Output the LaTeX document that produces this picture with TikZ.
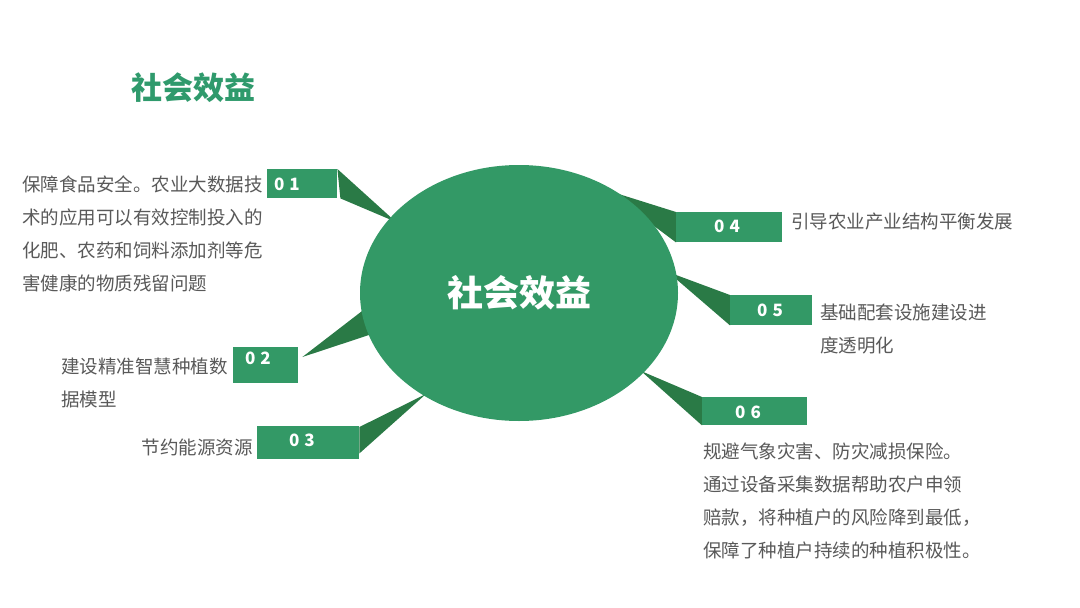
\documentclass[tikz,border=0pt]{standalone}
\usepackage{fontspec}
\setmainfont{Noto Sans CJK SC}
\definecolor{mygreen}{HTML}{339966}
\definecolor{mydark}{HTML}{2A7A46}
\definecolor{mytitle}{HTML}{2F9A6C}
\definecolor{mygray}{HTML}{595959}
\begin{document}
\begin{tikzpicture}[x=1pt,y=-1pt,
  tab/.style={fill=mygreen,draw=none,inner sep=0pt,anchor=north west},
  num/.style={text=white,font=\fontsize{17}{17}\selectfont\bfseries,inner sep=0pt},
  body/.style={text=mygray,font=\fontsize{18.5}{33}\selectfont,align=left,inner sep=0pt,anchor=north west}]
\useasboundingbox (0,0) rectangle (1080,608);
\fill[white] (0,0) rectangle (1080,608);
% title
\node[text=mytitle,font=\fontsize{31}{31}\selectfont\bfseries,inner sep=0pt,anchor=west] (title) at (131,88) {社会效益};
% tabs (rectangles)
\node[tab,minimum width=70,minimum height=29] (r1) at (267,169) {};
\node[tab,minimum width=65,minimum height=36] (r2) at (233,347) {};
\node[tab,minimum width=102,minimum height=33] (r3) at (257,426) {};
\node[tab,minimum width=106,minimum height=30] (r4) at (676,212) {};
\node[tab,minimum width=82,minimum height=30] (r5) at (730,295) {};
\node[tab,minimum width=105,minimum height=28] (r6) at (702,397) {};
% connector triangles (tips slightly inside the ellipse)
\coordinate (p1) at (396,222);
\coordinate (p2a) at (366,308);
\coordinate (p2b) at (372,334);
\coordinate (p3) at (426,394);
\coordinate (p4) at (606,190);
\coordinate (p5) at (668,272);
\coordinate (p6) at (641,371);
\fill[mydark] (r1.north east) -- ([xshift=3pt]r1.south east) -- (p1) -- cycle;
\fill[mydark] ([xshift=4pt,yshift=-10pt]r2.north east) -- (p2a) -- (p2b) -- cycle;
\fill[mydark] ([yshift=-1pt]r3.north east) -- ([yshift=6pt]r3.south east) -- (p3) -- cycle;
\fill[mydark] (r4.north west) -- (r4.south west) -- (p4) -- cycle;
\fill[mydark] (r5.north west) -- (r5.south west) -- (p5) -- cycle;
\fill[mydark] (r6.north west) -- (r6.south west) -- (p6) -- cycle;
% ellipse
\fill[mygreen] (519,293) ellipse [x radius=159, y radius=128];
\node[text=white,font=\fontsize{36}{36}\selectfont\bfseries,inner sep=0pt] (center) at (519,293) {社会效益};
% redraw tabs on top
\fill[mygreen] (r1.north west) rectangle (r1.south east);
\fill[mygreen] (r2.north west) rectangle (r2.south east);
\fill[mygreen] (r3.north west) rectangle (r3.south east);
\fill[mygreen] (r4.north west) rectangle (r4.south east);
\fill[mygreen] (r5.north west) rectangle (r5.south east);
\fill[mygreen] (r6.north west) rectangle (r6.south east);
% numbers
\node[num] (n1) at (287,184) {0\hspace{5pt}1};
\node[num] (n2) at (258,358) {0\hspace{5pt}2};
\node[num] (n3) at (302,440) {0\hspace{5pt}3};
\node[num] (n4) at (727,226) {0\hspace{5pt}4};
\node[num] (n5) at (770,310) {0\hspace{5pt}5};
\node[num] (n6) at (748,412) {0\hspace{5pt}6};
% texts
\node[body] (t1) at (22,176) {保障食品安全。农业大数据技\\术的应用可以有效控制投入的\\化肥、农药和饲料添加剂等危\\害健康的物质残留问题};
\node[body] (t2) at (61,358) {建设精准智慧种植数\\据模型};
\node[body,anchor=north east] (t3) at (253,439) {节约能源资源};
\node[body] (t4) at (791,213) {引导农业产业结构平衡发展};
\node[body] (t5) at (820,304) {基础配套设施建设进\\度透明化};
\node[body] (t6) at (703,443) {规避气象灾害、防灾减损保险。\\通过设备采集数据帮助农户申领\\赔款，将种植户的风险降到最低，\\保障了种植户持续的种植积极性。};
\end{tikzpicture}
\end{document}
